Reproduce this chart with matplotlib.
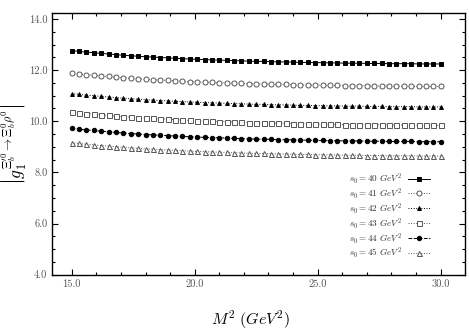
import numpy as np
import matplotlib
matplotlib.use("Agg")
import matplotlib.pyplot as plt
from matplotlib.ticker import MultipleLocator, FormatStrFormatter

plt.rcParams['mathtext.fontset'] = 'cm'
plt.rcParams['font.family'] = ['cmr10', 'DejaVu Sans']
plt.rcParams['axes.formatter.use_mathtext'] = True

# M^2 grid (GeV^2)
m2 = [15.0 + 0.3 * i for i in range(51)]

s0_labels = [r'$s_0=40\ GeV^2$', r'$s_0=41\ GeV^2$', r'$s_0=42\ GeV^2$',
             r'$s_0=43\ GeV^2$', r'$s_0=44\ GeV^2$', r'$s_0=45\ GeV^2$']

g_s40 = [12.76, 12.73, 12.70, 12.68, 12.65, 12.63, 12.60, 12.58, 12.56, 12.54, 12.52, 12.51, 12.49,
         12.48, 12.46, 12.45, 12.43, 12.42, 12.41, 12.40, 12.39, 12.38, 12.37, 12.36, 12.35, 12.34,
         12.34, 12.33, 12.32, 12.32, 12.31, 12.30, 12.30, 12.29, 12.29, 12.28, 12.28, 12.27, 12.27,
         12.27, 12.26, 12.26, 12.26, 12.25, 12.25, 12.25, 12.25, 12.24, 12.24, 12.24, 12.24]
g_s41 = [11.88, 11.85, 11.82, 11.80, 11.77, 11.75, 11.72, 11.70, 11.68, 11.66, 11.64, 11.63, 11.61,
         11.60, 11.58, 11.57, 11.55, 11.54, 11.53, 11.52, 11.51, 11.50, 11.49, 11.48, 11.47, 11.46,
         11.46, 11.45, 11.44, 11.44, 11.43, 11.42, 11.42, 11.41, 11.41, 11.40, 11.40, 11.39, 11.39,
         11.39, 11.38, 11.38, 11.38, 11.37, 11.37, 11.37, 11.37, 11.36, 11.36, 11.36, 11.36]
g_s42 = [11.08, 11.05, 11.02, 11.00, 10.97, 10.95, 10.92, 10.90, 10.88, 10.86, 10.84, 10.83, 10.81,
         10.80, 10.78, 10.77, 10.75, 10.74, 10.73, 10.72, 10.71, 10.70, 10.69, 10.68, 10.67, 10.66,
         10.66, 10.65, 10.64, 10.64, 10.63, 10.62, 10.62, 10.61, 10.61, 10.60, 10.60, 10.59, 10.59,
         10.59, 10.58, 10.58, 10.58, 10.57, 10.57, 10.57, 10.57, 10.56, 10.56, 10.56, 10.56]
g_s43 = [10.36, 10.33, 10.30, 10.28, 10.25, 10.23, 10.20, 10.18, 10.16, 10.14, 10.12, 10.11, 10.09,
         10.08, 10.06, 10.05, 10.03, 10.02, 10.01, 10.00, 9.99, 9.98, 9.97, 9.96, 9.95, 9.94,
         9.94, 9.93, 9.92, 9.92, 9.91, 9.90, 9.90, 9.89, 9.89, 9.88, 9.88, 9.87, 9.87,
         9.87, 9.86, 9.86, 9.86, 9.85, 9.85, 9.85, 9.85, 9.84, 9.84, 9.84, 9.84]
g_s44 = [9.72, 9.69, 9.66, 9.64, 9.61, 9.59, 9.56, 9.54, 9.52, 9.50, 9.48, 9.47, 9.45,
         9.44, 9.42, 9.41, 9.39, 9.38, 9.37, 9.36, 9.35, 9.34, 9.33, 9.32, 9.31, 9.30,
         9.30, 9.29, 9.28, 9.28, 9.27, 9.26, 9.26, 9.25, 9.25, 9.24, 9.24, 9.23, 9.23,
         9.23, 9.22, 9.22, 9.22, 9.21, 9.21, 9.21, 9.21, 9.20, 9.20, 9.20, 9.20]
g_s45 = [9.16, 9.13, 9.10, 9.08, 9.05, 9.03, 9.00, 8.98, 8.96, 8.94, 8.92, 8.91, 8.89,
         8.88, 8.86, 8.85, 8.83, 8.82, 8.81, 8.80, 8.79, 8.78, 8.77, 8.76, 8.75, 8.74,
         8.74, 8.73, 8.72, 8.72, 8.71, 8.70, 8.70, 8.69, 8.69, 8.68, 8.68, 8.67, 8.67,
         8.67, 8.66, 8.66, 8.66, 8.65, 8.65, 8.65, 8.65, 8.64, 8.64, 8.64, 8.64]

series = [g_s40, g_s41, g_s42, g_s43, g_s44, g_s45]
styles = [
    dict(color='black', ls='-', marker='s', mfc='black', mec='black', ms=3.4),
    dict(color='#555555', ls=':', marker='o', mfc='white', mec='#555555', ms=3.6),
    dict(color='black', ls=':', marker='^', mfc='black', mec='black', ms=2.8),
    dict(color='#555555', ls=':', marker='s', mfc='white', mec='#555555', ms=3.6),
    dict(color='black', ls='--', marker='o', mfc='black', mec='black', ms=3.2),
    dict(color='#555555', ls=':', marker='^', mfc='white', mec='#555555', ms=3.6),
]

fig = plt.figure(figsize=(4.69, 3.36), dpi=100)
ax = fig.add_axes([0.1115, 0.1824, 0.8800, 0.778])

for y, lab, st in zip(series, s0_labels, styles):
    ax.plot(m2, y, lw=0.7, mew=0.7, label=lab, **st)

ax.set_xlim(14.21, 30.99)
ax.set_ylim(4.0, 14.22)
ax.xaxis.set_major_locator(MultipleLocator(5.0))
ax.xaxis.set_minor_locator(MultipleLocator(1.0))
ax.yaxis.set_major_locator(MultipleLocator(2.0))
ax.yaxis.set_minor_locator(MultipleLocator(0.5))
ax.xaxis.set_major_formatter(FormatStrFormatter('%.1f'))
ax.yaxis.set_major_formatter(FormatStrFormatter('%.1f'))
ax.tick_params(which='both', direction='in', top=True, right=True, labelsize=7.5,
               labelcolor='#555555', width=0.8)
ax.tick_params(which='major', length=4)
ax.tick_params(which='minor', length=2)
for sp in ax.spines.values():
    sp.set_linewidth(1.0)

fig.text(0.535, 0.048, r'$M^2\ (GeV^2)$', fontsize=11.5, ha='center', va='center')
fig.text(0.028, 0.57, r'$\left|g_1^{\Xi_b^{\prime 0}\rightarrow\Xi_b^0\rho^0}\right|$',
         fontsize=12.5, rotation=90, ha='center', va='center')

leg = ax.legend(loc='lower right', bbox_to_anchor=(0.93, 0.03), frameon=False,
                fontsize=6.6, markerfirst=False, handlelength=2.4, labelspacing=0.0,
                handletextpad=0.6, borderpad=0.2)
for t in leg.get_texts():
    t.set_color('#333333')

fig.savefig('out.png', dpi=100)
